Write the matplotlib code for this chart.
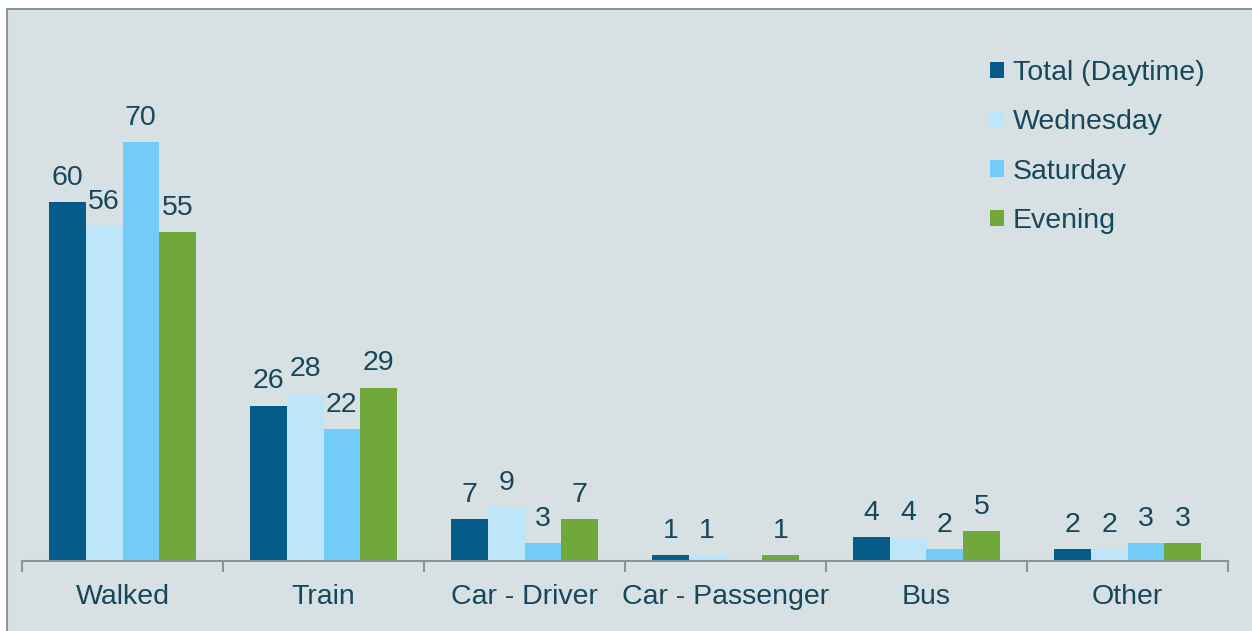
import numpy as np
import matplotlib
matplotlib.use('Agg')
import matplotlib.pyplot as plt
from matplotlib.patches import Rectangle

categories = ['Walked', 'Train', 'Car - Driver', 'Car - Passenger', 'Bus', 'Other']
series = ['Total (Daytime)', 'Wednesday', 'Saturday', 'Evening']
total = [60, 26, 7, 1, 4, 2]
wednesday = [56, 28, 9, 1, 4, 2]
saturday = [70, 22, 3, 0, 2, 3]
evening = [55, 29, 7, 1, 5, 3]

colors = ['#065b8b', '#bde6fa', '#73cbfa', '#71a83b']
txt = '#17475c'
bg = '#d7e0e3'
grey = '#8c9396'

plt.rcParams['font.family'] = ['Liberation Sans', 'DejaVu Sans']
fs = 20.5

fig = plt.figure(figsize=(12.52, 6.31), dpi=100, facecolor='white')
fig.patches.append(Rectangle((7/1252, -0.01), 1.0, (631-9)/631 + 0.01,
                             transform=fig.transFigure, facecolor=bg,
                             edgecolor=grey, linewidth=1.5, zorder=-5))

ax = fig.add_axes([22/1252, 70/631, 1206/1252, 85*5.98/631])
ax.set_facecolor('none')

x = np.arange(len(categories))
w = 0.73 / 4
data = [total, wednesday, saturday, evening]
for i, (vals, col, name) in enumerate(zip(data, colors, series)):
    pos = x + (i - 1.5) * w
    bars = ax.bar(pos, vals, width=w, color=col, label=name, zorder=2)
    for b, v in zip(bars, vals):
        if v > 0:
            ax.annotate(str(v), (b.get_x() + b.get_width()/2, v),
                        xytext=(0, 8), textcoords='offset points',
                        ha='center', va='bottom', fontsize=fs, color=txt)

ax.set_xlim(-0.5, len(categories) - 0.5)
ax.set_ylim(0, 85)
ax.set_yticks([])
for s in ['top', 'right', 'left']:
    ax.spines[s].set_visible(False)
ax.spines['bottom'].set_color(grey)
ax.spines['bottom'].set_linewidth(1.5)

ax.set_xticks(np.arange(-0.5, len(categories), 1.0))
ax.set_xticklabels([])
ax.tick_params(axis='x', which='major', direction='out', length=8, width=1.5, color=grey)
ax.set_xticks(x, minor=True)
ax.set_xticklabels(categories, minor=True, fontsize=fs, color=txt)
ax.tick_params(axis='x', which='minor', length=0, pad=16.5)

leg = fig.legend(loc='upper left', bbox_to_anchor=(990/1252, 1 - 60/631),
                 frameon=False, fontsize=fs, handlelength=0.5, handleheight=0.5,
                 handletextpad=0.3, labelspacing=0.82, borderpad=0, borderaxespad=0)
for t in leg.get_texts():
    t.set_color(txt)

fig.savefig('out.png', dpi=100, facecolor='white')
